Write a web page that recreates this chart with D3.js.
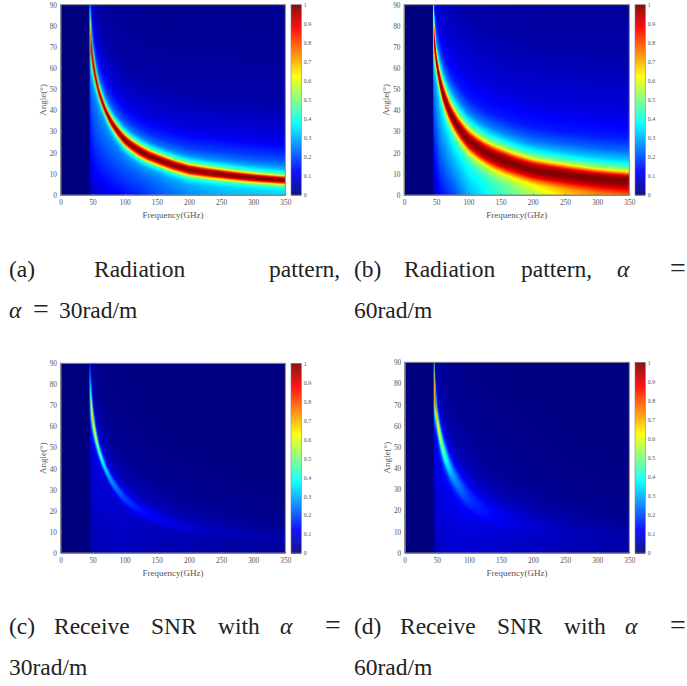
<!DOCTYPE html>
<html>
<head>
<meta charset="utf-8">
<script src="https://cdn.jsdelivr.net/npm/d3@7"></script>
<style>
	html, body { margin: 0; padding: 0; background: white; }
	svg { display: block; }
	text { font-family: "Liberation Serif", serif; }
</style>
</head>
<body>
<svg id="page" width="687" height="686"></svg>
<script>
const angleTicks = [0, 10, 20, 30, 40, 50, 60, 70, 80, 90];
const freqTicks = [0, 50, 100, 150, 200, 250, 300, 350];
const colorTicks = [0, 0.1, 0.2, 0.3, 0.4, 0.5, 0.6, 0.7, 0.8, 0.9, 1];

// at these frequencies (GHz)
const cutoffFreq = 45;
const ridgeFreqs = [45, 45.5, 46, 47, 48, 50, 52, 55, 60, 65, 70, 75, 80, 90, 100, 110, 125, 137, 150, 175, 200, 225, 250, 275, 300, 325, 350];
const ridgeAngle = [89, 81, 78, 73, 70, 64, 60, 55, 48.5, 44, 40, 36.8, 34, 29.6, 26, 23.5, 20.5, 18.6, 17, 14.2, 12, 10.8, 9.8, 8.9, 8.1, 7.5, 7];

const freqs = [45, 45.5, 46, 47, 48, 50, 55, 60, 70, 80, 100, 125, 150, 200, 250, 300, 350];

const peakA = [0.3, 0.42, 0.6, 0.9, 1, 1, 1, 1, 1, 1, 1, 1, 1, 1, 1, 1, 1];
const upperWidthA = [18, 15, 13, 11, 8.5, 6, 4.2, 3.4, 3, 3.2, 3.5, 3.6, 3.4, 3.2, 3, 2.7, 2.5];
const lowerWidthA = [18, 15, 13, 11, 8.5, 6, 4.2, 3.4, 3, 3.2, 3.6, 3.8, 3.6, 3.6, 3.2, 2.9, 2.7];
const shoulderA = [0.2, 0.22, 0.25, 0.28, 0.3, 0.3, 0.3, 0.3, 0.3, 0.3, 0.3, 0.3, 0.3, 0.32, 0.33, 0.33, 0.33];
const bottomA = [0.05, 0.05, 0.06, 0.06, 0.06, 0.07, 0.08, 0.09, 0.1, 0.11, 0.13, 0.16, 0.2, 0.26, 0.3, 0.32, 0.34];

const peakB = [0.38, 0.6, 0.8, 0.95, 1, 1, 1, 1, 1, 1, 1, 1, 1, 1, 1, 1, 1];
const upperWidthB = [18, 15, 12, 9.5, 7.5, 5.5, 5.5, 6, 6, 6, 6, 6, 6, 5.8, 5.3, 4.8, 4.5];
const lowerWidthB = [18, 15, 12, 9.5, 7.5, 5.5, 5.5, 6, 6, 6, 6.5, 7, 7.5, 7, 7, 7, 7];
const shoulderB = [0.25, 0.28, 0.3, 0.32, 0.35, 0.35, 0.38, 0.4, 0.42, 0.45, 0.45, 0.45, 0.45, 0.45, 0.45, 0.45, 0.45];
const bottomB = [0.06, 0.06, 0.07, 0.07, 0.07, 0.08, 0.12, 0.14, 0.17, 0.2, 0.3, 0.36, 0.42, 0.52, 0.62, 0.68, 0.72];

const peakC = [0.25, 0.28, 0.32, 0.5, 0.62, 0.72, 0.6, 0.48, 0.35, 0.27, 0.19, 0.14, 0.115, 0.08, 0.06, 0.05, 0.045];
const shoulderC = [0.08, 0.08, 0.09, 0.1, 0.1, 0.1, 0.1, 0.1, 0.09, 0.08, 0.08, 0.07, 0.06, 0.05, 0.04, 0.03, 0.025];
const bottomC = [0.025, 0.025, 0.03, 0.03, 0.04, 0.045, 0.05, 0.05, 0.055, 0.06, 0.06, 0.055, 0.05, 0.045, 0.035, 0.03, 0.025];

const peakD = [0.38, 0.65, 0.85, 0.85, 0.78, 0.72, 0.6, 0.47, 0.33, 0.26, 0.18, 0.14, 0.11, 0.08, 0.06, 0.05, 0.04];
const shoulderD = [0.1, 0.11, 0.12, 0.13, 0.13, 0.13, 0.13, 0.13, 0.12, 0.12, 0.11, 0.09, 0.08, 0.06, 0.045, 0.035, 0.03];
const bottomD = [0.03, 0.03, 0.04, 0.04, 0.05, 0.06, 0.065, 0.07, 0.075, 0.08, 0.08, 0.075, 0.07, 0.06, 0.05, 0.04, 0.03];

// band shape around the ridge: offset in band widths -> share of the peak
const bandOffset = [0, 0.25, 0.5, 0.75, 1, 1.5, 2, 3];
const bandLevel = [1, 0.95, 0.78, 0.48, 0.24, 0.08, 0.02, 0];

// glow above the ridge: degrees above it -> share of the shoulder
const glowOffset = [0, 4, 7, 11, 19, 35, 60, 90];
const glowLevelA = [1, 1, 0.75, 0.55, 0.3, 0.13, 0.07, 0.05];
const glowOffsetB = [0, 4, 9, 14, 20, 33, 60, 90];
const glowLevelB = [1, 0.95, 0.72, 0.5, 0.33, 0.2, 0.09, 0.05];

const jetStops = [0, 0.125, 0.375, 0.625, 0.875, 1];
const jetColors = ["#00007f", "#0000ff", "#00ffff", "#ffff00", "#ff0000", "#7f0000"];

const jet = d3.scaleLinear().domain(jetStops).range(jetColors).clamp(true);
const band = d3.scaleLinear().domain(bandOffset).range(bandLevel).clamp(true);

function byFreq(values) {
	return d3.scaleLog().domain(freqs).range(values).clamp(true);
}

const ridge = d3.scaleLog().domain(ridgeFreqs).range(ridgeAngle).clamp(true);

const panels = [
	{
		left: 60.5, right: 285.3, top: 4.7, bottom: 195, barLeft: 291, barRight: 301.3,
		peak: peakA, upper: upperWidthA, lower: lowerWidthA, shoulder: shoulderA, floor: bottomA,
		glow: d3.scaleLinear().domain(glowOffset).range(glowLevelA).clamp(true),
	},
	{
		left: 404, right: 629.3, top: 4.7, bottom: 195, barLeft: 635, barRight: 645.3,
		peak: peakB, upper: upperWidthB, lower: lowerWidthB, shoulder: shoulderB, floor: bottomB,
		glow: d3.scaleLinear().domain(glowOffsetB).range(glowLevelB).clamp(true),
	},
	{
		left: 60.5, right: 285.3, top: 363.3, bottom: 553, barLeft: 291, barRight: 301.3,
		peak: peakC, upper: upperWidthA, lower: lowerWidthA, shoulder: shoulderC, floor: bottomC,
		glow: d3.scaleLinear().domain(glowOffset).range(glowLevelA).clamp(true),
	},
	{
		left: 404.7, right: 629.3, top: 362.3, bottom: 553, barLeft: 635, barRight: 645.3,
		peak: peakD, upper: upperWidthB, lower: lowerWidthB, shoulder: shoulderD, floor: bottomD,
		glow: d3.scaleLinear().domain(glowOffsetB).range(glowLevelB).clamp(true),
	},
];

const svg = d3.select("#page");

function cellValue(p, lookups, f, angle) {
	if (f < cutoffFreq) return 0;
	const center = ridge(f);
	const peak = lookups.peak(f);
	const shoulder = lookups.shoulder(f);
	if (angle >= center) {
		const base = shoulder * p.glow(angle - center);
		return base + Math.max(peak - base, 0) * band((angle - center) / lookups.upper(f));
	}
	const floor = lookups.floor(f);
	const near = Math.max(floor, shoulder);
	const base = floor + (near - floor) * (angle / center);
	return base + Math.max(peak - base, 0) * band((center - angle) / lookups.lower(f));
}

function drawHeatmap(g, p, x, y) {
	const lookups = {
		peak: byFreq(p.peak),
		upper: byFreq(p.upper),
		lower: byFreq(p.lower),
		shoulder: byFreq(p.shoulder),
		floor: byFreq(p.floor),
	};
	const w = Math.round((p.right - p.left) * 2);
	const h = Math.round((p.bottom - p.top) * 2);
	const canvas = document.createElement("canvas");
	canvas.width = w;
	canvas.height = h;
	const ctx = canvas.getContext("2d");
	const image = ctx.createImageData(w, h);
	for (let row = 0; row < h; row++) {
		const angle = y.invert(p.top + (row + 0.5) / 2);
		for (let col = 0; col < w; col++) {
			const f = x.invert(p.left + (col + 0.5) / 2);
			const c = d3.rgb(jet(cellValue(p, lookups, f, angle)));
			const i = (row * w + col) * 4;
			image.data[i] = c.r;
			image.data[i + 1] = c.g;
			image.data[i + 2] = c.b;
			image.data[i + 3] = 255;
		}
	}
	ctx.putImageData(image, 0, 0);
	g.append("image")
		.attr("x", p.left)
		.attr("y", p.top)
		.attr("width", p.right - p.left)
		.attr("height", p.bottom - p.top)
		.attr("preserveAspectRatio", "none")
		.attr("href", canvas.toDataURL());
}

function drawColorbar(g, p) {
	const scale = d3.scaleLinear().domain([0, 1]).range([p.bottom, p.top]);
	const rows = d3.range(p.top, p.bottom, 0.5);
	g.selectAll("rect.bar")
		.data(rows)
		.enter()
		.append("rect")
		.attr("class", "bar")
		.attr("x", p.barLeft)
		.attr("y", d => d)
		.attr("width", p.barRight - p.barLeft)
		.attr("height", 0.8)
		.attr("fill", d => jet(scale.invert(d + 0.25)));

	const axis = d3.axisRight(scale)
		.tickValues(colorTicks)
		.tickFormat(d3.format("~g"))
		.tickSize(0)
		.tickPadding(2.5);
	const a = g.append("g")
		.attr("transform", `translate(${p.barRight},0)`)
		.call(axis);
	a.select(".domain").remove();
	a.selectAll("text").attr("font-size", 6).attr("fill", "#555");

	g.append("rect")
		.attr("x", p.barLeft)
		.attr("y", p.top)
		.attr("width", p.barRight - p.barLeft)
		.attr("height", p.bottom - p.top)
		.attr("fill", "none")
		.attr("stroke", "#888")
		.attr("stroke-width", 0.6);
}

function drawPanel(p) {
	const g = svg.append("g");
	const x = d3.scaleLinear().domain([0, 350]).range([p.left, p.right]);
	const y = d3.scaleLinear().domain([0, 90]).range([p.bottom, p.top]);

	drawHeatmap(g, p, x, y);

	const xAxis = g.append("g")
		.attr("transform", `translate(0,${p.bottom})`)
		.call(d3.axisBottom(x).tickValues(freqTicks).tickSizeInner(-1.5).tickSizeOuter(0).tickPadding(5));
	const yAxis = g.append("g")
		.attr("transform", `translate(${p.left},0)`)
		.call(d3.axisLeft(y).tickValues(angleTicks).tickSizeInner(-1.5).tickSizeOuter(0).tickPadding(3.5));
	[xAxis, yAxis].forEach(a => {
		a.select(".domain").attr("stroke", "#888");
		a.selectAll("line").attr("stroke", "#666").attr("stroke-width", 0.6);
		a.selectAll("text").attr("font-size", 7.3).attr("fill", "#555");
	});

	g.append("rect")
		.attr("x", p.left)
		.attr("y", p.top)
		.attr("width", p.right - p.left)
		.attr("height", p.bottom - p.top)
		.attr("fill", "none")
		.attr("stroke", "#888")
		.attr("stroke-width", 1);

	g.append("text")
		.attr("x", (p.left + p.right) / 2)
		.attr("y", p.bottom + 22.5)
		.attr("text-anchor", "middle")
		.attr("font-size", 9)
		.attr("fill", "#555")
		.text("Frequency(GHz)");

	g.append("text")
		.attr("transform", `translate(${p.left - 15},${(p.top + p.bottom) / 2}) rotate(-90)`)
		.attr("text-anchor", "middle")
		.attr("font-size", 9)
		.attr("fill", "#555")
		.text("Angle(°)");

	drawColorbar(g, p);
}

panels.forEach(drawPanel);

// caption words are spaced out to the column width, as in the justified original
const captionWords = [
	{ t: "(a)", x: 9, y: 277 }, { t: "Radiation", x: 94, y: 277 }, { t: "pattern,", x: 269, y: 277 },
	{ t: "α", x: 9, y: 318, i: true }, { t: "=", x: 33, y: 318, big: true }, { t: "30rad/m", x: 59, y: 318 },
	{ t: "(b)", x: 354, y: 277 }, { t: "Radiation", x: 404, y: 277 }, { t: "pattern,", x: 521, y: 277 },
	{ t: "α", x: 617, y: 277, i: true }, { t: "=", x: 670, y: 277, big: true }, { t: "60rad/m", x: 354, y: 318 },
	{ t: "(c)", x: 9, y: 634 }, { t: "Receive", x: 54, y: 634 }, { t: "SNR", x: 151, y: 634 },
	{ t: "with", x: 218, y: 634 }, { t: "α", x: 280, y: 634, i: true }, { t: "=", x: 325, y: 634, big: true },
	{ t: "30rad/m", x: 9, y: 675 },
	{ t: "(d)", x: 354, y: 634 }, { t: "Receive", x: 400, y: 634 }, { t: "SNR", x: 497, y: 634 },
	{ t: "with", x: 564, y: 634 }, { t: "α", x: 625, y: 634, i: true }, { t: "=", x: 670, y: 634, big: true },
	{ t: "60rad/m", x: 354, y: 675 },
];

svg.selectAll("text.caption")
	.data(captionWords)
	.enter()
	.append("text")
	.attr("class", "caption")
	.attr("x", d => d.x)
	.attr("y", d => d.y)
	.attr("font-size", d => d.big ? 28 : 23.5)
	.attr("font-style", d => d.i ? "italic" : "normal")
	.attr("fill", "#222")
	.text(d => d.t);
</script>
</body>
</html>
